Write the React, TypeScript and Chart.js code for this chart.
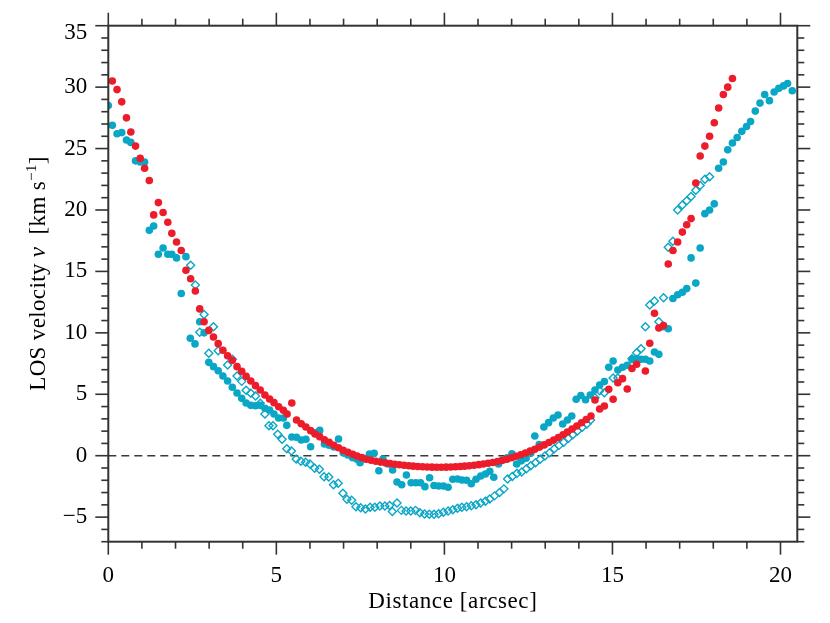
import { useEffect, useRef } from "react";
import { Chart, registerables } from "chart.js";

Chart.register(...registerables);

// ---------- data ----------
const redX = [
  0.12, 0.26, 0.4, 0.54, 0.67, 0.81, 0.95, 1.08, 1.22, 1.35, 1.49, 1.63, 1.77, 1.89, 2.03, 2.17, 2.31, 2.45, 2.59, 2.72,
  2.85, 2.99, 3.13, 3.27, 3.41, 3.55, 3.69, 3.83, 3.97, 4.1, 4.24, 4.38, 4.52, 4.66, 4.8, 4.93, 5.07, 5.21, 5.32, 5.46,
  5.6, 5.74, 5.88, 6.02, 6.15, 6.29, 6.43, 6.57, 6.71, 6.85, 6.99, 7.13, 7.27, 7.4, 7.54, 7.68, 7.82, 7.96, 8.1, 8.24,
  8.38, 8.52, 8.66, 8.8, 8.94, 9.07, 9.21, 9.35, 9.49, 9.63, 9.77, 9.91, 10.05, 10.19, 10.33, 10.47, 10.6, 10.74, 10.88, 11.02,
  11.16, 11.3, 11.44, 11.58, 11.72, 11.86, 12.0, 12.13, 12.27, 12.41, 12.55, 12.69, 12.83, 12.97, 13.11, 13.25, 13.39, 13.53, 13.66, 13.8,
  13.94, 14.08, 14.22, 14.36, 14.48, 14.62, 14.76, 14.89, 15.02, 15.16, 15.3, 15.44, 15.58, 15.72, 15.98, 16.11, 16.25, 16.38, 16.52, 16.66,
  16.8, 16.94, 17.08, 17.21, 17.34, 17.48, 17.61, 17.75, 17.89, 18.03, 18.16, 18.3, 18.43, 18.57,
];
const redY = [
  30.5, 29.8, 28.8, 27.5, 26.35, 25.2, 24.2, 23.4, 22.4, 19.6, 20.6, 19.8, 19.0, 18.1, 17.4, 16.7, 15.1, 14.4, 13.4, 11.95,
  10.9, 10.2, 9.66, 9.12, 8.58, 8.14, 7.77, 7.25, 6.87, 6.46, 6.08, 5.7, 5.35, 4.94, 4.62, 4.32, 3.99, 3.7, 3.4, 4.29,
  2.91, 2.6, 2.34, 2.04, 1.77, 1.55, 1.3, 1.09, 0.85, 0.65, 0.44, 0.28, 0.11, -0.02, -0.16, -0.29, -0.37, -0.45, -0.52, -0.58,
  -0.64, -0.69, -0.74, -0.78, -0.82, -0.85, -0.88, -0.9, -0.92, -0.93, -0.94, -0.94, -0.93, -0.92, -0.9, -0.88, -0.85, -0.82, -0.78, -0.73,
  -0.68, -0.62, -0.55, -0.47, -0.38, -0.28, -0.17, -0.05, 0.08, 0.22, 0.37, 0.53, 0.7, 0.88, 1.07, 1.27, 1.48, 1.7, 1.93, 2.17,
  2.42, 2.68, 2.95, 3.23, 4.53, 3.8, 4.05, 5.4, 4.6, 5.94, 6.27, 5.43, 7.1, 7.44, 6.9, 9.15, 11.6, 10.4, 10.6, 15.6,
  16.7, 17.4, 18.2, 18.8, 19.3, 22.2, 24.4, 25.2, 26.0, 27.1, 28.3, 29.4, 30.0, 30.7,
];

const cyanX = [
  0.0, 0.12, 0.26, 0.4, 0.54, 0.67, 0.81, 0.95, 1.08, 1.22, 1.35, 1.49, 1.63, 1.77, 1.89, 2.03, 2.17, 2.31, 2.44, 2.58,
  2.72, 2.85, 2.99, 3.13, 3.27, 3.41, 3.55, 3.69, 3.83, 3.97, 4.1, 4.24, 4.38, 4.52, 4.66, 4.8, 4.93, 5.07, 5.21, 5.31,
  5.46, 5.6, 5.74, 5.88, 6.02, 6.15, 6.29, 6.43, 6.57, 6.71, 6.85, 6.99, 7.13, 7.27, 7.4, 7.49, 7.63, 7.77, 7.91, 8.05,
  8.17, 8.32, 8.46, 8.59, 8.73, 8.87, 9.01, 9.15, 9.29, 9.42, 9.56, 9.69, 9.83, 9.97, 10.11, 10.25, 10.39, 10.52, 10.66, 10.8,
  10.94, 11.08, 11.22, 11.35, 11.47, 11.61, 11.74, 11.87, 12.01, 12.15, 12.29, 12.43, 12.57, 12.69, 12.82, 12.96, 13.1, 13.24, 13.38, 13.52,
  13.66, 13.79, 13.92, 14.06, 14.2, 14.34, 14.48, 14.62, 14.76, 14.89, 15.02, 15.16, 15.3, 15.44, 15.58, 15.72, 15.85, 15.98, 16.11, 16.25,
  16.38, 16.52, 16.66, 16.8, 16.94, 17.08, 17.21, 17.34, 17.48, 17.61, 17.75, 17.89, 18.03, 18.16, 18.3, 18.43, 18.57, 18.71, 18.85, 18.99,
  19.11, 19.25, 19.39, 19.53, 19.67, 19.81, 19.95, 20.09, 20.21, 20.35,
];
const cyanY = [
  28.5, 26.9, 26.2, 26.3, 25.7, 25.5, 24.0, 23.9, 23.9, 18.35, 18.7, 16.4, 16.9, 16.4, 16.4, 16.1, 13.2, 16.2, 9.56, 9.1,
  10.9, 10.0, 7.6, 7.25, 6.92, 6.49, 6.08, 5.57, 5.1, 4.67, 4.29, 4.1, 4.07, 4.1, 3.86, 3.72, 3.4, 3.07, 3.07, 2.47,
  1.52, 1.5, 1.28, 1.34, 0.73, 1.87, 2.06, 0.95, 0.85, 0.71, 1.36, 0.25, 0.06, -0.16, -0.29, -0.57, -0.24, 0.14, 0.2, -1.22,
  -0.27, -0.67, -1.16, -2.14, -2.36, -1.57, -2.2, -2.2, -2.2, -2.52, -1.8, -2.43, -2.47, -2.47, -2.57, -1.92, -1.9, -1.98, -2.0, -2.28,
  -1.92, -1.65, -1.49, -1.27, -1.76, -0.67, -0.35, -0.18, 0.15, -0.67, -0.42, -0.2, 0.2, 1.6, 0.9, 2.34, 2.69, 3.07, 3.31, 2.58,
  2.9, 3.23, 4.59, 4.9, 4.55, 4.94, 5.35, 5.76, 6.03, 7.2, 7.71, 6.98, 7.2, 7.36, 7.85, 7.9, 7.85, 7.85, 7.71, 8.44,
  8.25, 10.5, 10.33, 12.8, 13.1, 13.3, 13.6, 16.1, 14.05, 16.9, 19.7, 20.0, 20.5, 23.4, 23.9, 24.9, 25.45, 25.9, 26.4, 26.8,
  27.2, 28.05, 28.7, 29.4, 28.9, 29.6, 29.9, 30.1, 30.3, 29.7,
];

const diamondX = [
  2.45, 2.59, 2.72, 2.85, 2.99, 3.13, 3.27, 3.55, 3.69, 3.83, 3.97, 4.1, 4.24, 4.38, 4.52, 4.66, 4.78, 4.9, 5.04, 5.17,
  5.31, 5.45, 5.59, 5.73, 5.87, 6.0, 6.14, 6.28, 6.42, 6.56, 6.7, 6.84, 6.98, 7.1, 7.24, 7.37, 7.51, 7.65, 7.79, 7.93,
  8.08, 8.23, 8.37, 8.45, 8.59, 8.72, 8.86, 9.0, 9.14, 9.27, 9.41, 9.55, 9.69, 9.83, 9.97, 10.11, 10.25, 10.39, 10.52, 10.66,
  10.8, 10.94, 11.08, 11.22, 11.35, 11.49, 11.64, 11.77, 11.88, 12.02, 12.16, 12.3, 12.44, 12.57, 12.71, 12.85, 12.99, 13.13, 13.27, 13.41,
  13.55, 13.69, 13.82, 13.96, 14.1, 14.24, 14.35, 14.48, 14.62, 14.76, 15.02, 15.16, 15.58, 15.72, 15.85, 15.98, 16.11, 16.25, 16.38, 16.52,
  16.66, 16.8, 16.94, 17.08, 17.21, 17.34, 17.48, 17.61, 17.75, 17.89,
];
const diamondY = [
  15.5, 13.9, 10.05, 11.5, 8.33, 10.5, 8.55, 7.38, 7.85, 6.49, 6.05, 5.32, 5.08, 4.86, 4.27, 3.39, 2.44, 2.44, 1.74, 1.34,
  0.57, 0.38, -0.27, -0.46, -0.54, -0.68, -1.03, -1.11, -1.71, -1.73, -2.36, -2.25, -3.06, -3.55, -3.63, -4.15, -4.23, -4.34, -4.2, -4.2,
  -4.1, -4.1, -4.05, -4.55, -3.85, -4.45, -4.5, -4.5, -4.45, -4.64, -4.75, -4.77, -4.77, -4.72, -4.6, -4.5, -4.4, -4.28, -4.2, -4.15,
  -4.07, -3.99, -3.85, -3.7, -3.52, -3.27, -3.0, -2.7, -1.9, -1.7, -1.43, -1.33, -1.06, -0.81, -0.57, -0.29, -0.03, 0.24, 0.57, 0.84,
  1.09, 1.42, 1.71, 2.01, 2.31, 2.58, 2.9, 4.72, 5.29, 5.13, 6.32, 6.32, 7.9, 8.38, 8.7, 10.5, 12.27, 12.6, 10.9, 12.85,
  16.96, 17.45, 20.0, 20.4, 20.75, 21.1, 21.6, 22.0, 22.5, 22.7,
];

const zeroLineX = [0, 20.5];
const zeroLineY = [0, 0];

const xTickValues = [0, 5, 10, 15, 20];
const yTickValues = [-5, 0, 5, 10, 15, 20, 25, 30, 35];

const X_MIN = 0;
const X_MAX = 20.5;
const Y_MIN = -7;
const Y_MAX = 35;
const X_MAJOR = 5;
const Y_MAJOR = 5;
const MINOR = 1;

const X_TITLE = "Distance [arcsec]";
const Y_TITLE_PARTS = [
  { text: "LOS velocity ", style: "normal", sup: false },
  { text: "v", style: "italic", sup: false },
  { text: "  [km s", style: "normal", sup: false },
  { text: "\u22121", style: "normal", sup: true },
  { text: "]", style: "normal", sup: false },
];

const RED = "#ec1c2a";
const CYAN = "#0aa6c6";
const AXIS = "#333333";
const FONT = '"Liberation Serif", "Times New Roman", serif';
const FS = 23;
const Y_LABEL_PAD = 21;

const fmt = (v: number) => (v < 0 ? "\u2212" + Math.abs(v) : String(v));
const zip = (xs: number[], ys: number[]) => xs.map((x, i) => ({ x, y: ys[i] }));

const framePlugin = {
  id: "frameTicks",
  afterDraw(chart: any) {
    const { ctx, chartArea: a } = chart;
    const xs = chart.scales.x;
    const ys = chart.scales.y;
    ctx.save();
    ctx.strokeStyle = AXIS;
    ctx.lineCap = "butt";
    ctx.lineWidth = 1.6;
    const line = (x1: number, y1: number, x2: number, y2: number) => {
      ctx.beginPath();
      ctx.moveTo(x1, y1);
      ctx.lineTo(x2, y2);
      ctx.stroke();
    };
    for (let v = Math.ceil(X_MIN); v <= X_MAX; v += MINOR) {
      const p = xs.getPixelForValue(v);
      const L = v % X_MAJOR === 0 ? 13 : 7;
      line(p, a.bottom, p, a.bottom + L);
      line(p, a.top, p, a.top - L);
    }
    for (let v = Y_MIN; v <= Y_MAX; v += MINOR) {
      const p = ys.getPixelForValue(v);
      const L = v % Y_MAJOR === 0 ? 13 : 7;
      line(a.left - L, p, a.left, p);
      line(a.right, p, a.right + L, p);
    }
    ctx.lineWidth = 2;
    ctx.strokeRect(a.left, a.top, a.right - a.left, a.bottom - a.top);

    ctx.fillStyle = "#000";
    ctx.font = `${FS}px ${FONT}`;

    // top y label sits just inside the frame top, as in the reference
    ctx.textAlign = "right";
    ctx.textBaseline = "top";
    ctx.fillText(fmt(Y_MAX), a.left - Y_LABEL_PAD, ys.getPixelForValue(Y_MAX) - 4.5);

    // x title
    (ctx as any).letterSpacing = "0.6px";
    ctx.textAlign = "center";
    ctx.textBaseline = "alphabetic";
    ctx.fillText(X_TITLE, (a.left + a.right) / 2, 608);

    // y title (rotated, mixed styles)
    (ctx as any).letterSpacing = "0.35px";
    const fontFor = (p: any) =>
      p.sup ? `15px ${FONT}` : `${p.style === "italic" ? "italic " : ""}${FS}px ${FONT}`;
    let total = 0;
    for (const p of Y_TITLE_PARTS) {
      ctx.font = fontFor(p);
      total += ctx.measureText(p.text).width;
    }
    ctx.translate(45, 273.5);
    ctx.rotate(-Math.PI / 2);
    ctx.textAlign = "left";
    let cx = -total / 2;
    for (const p of Y_TITLE_PARTS) {
      ctx.font = fontFor(p);
      ctx.fillText(p.text, cx, p.sup ? -9 : 0);
      cx += ctx.measureText(p.text).width;
    }
    ctx.restore();
  },
};

export default function App() {
  const ref = useRef<HTMLCanvasElement | null>(null);
  useEffect(() => {
    if (!ref.current) return;
    const chart = new Chart(ref.current, {
      type: "scatter",
      data: {
        datasets: [
          {
            label: "red",
            data: zip(redX, redY),
            pointRadius: 3.8,
            pointBorderWidth: 0,
            backgroundColor: RED,
            borderColor: RED,
            pointStyle: "circle",
            clip: 0,
          } as any,
          {
            label: "cyan",
            data: zip(cyanX, cyanY),
            pointRadius: 3.8,
            pointBorderWidth: 0,
            backgroundColor: CYAN,
            borderColor: CYAN,
            pointStyle: "circle",
            clip: 0,
          },
          {
            label: "diamond",
            data: zip(diamondX, diamondY),
            pointRadius: 4,
            pointBorderWidth: 1.4,
            backgroundColor: "rgba(255,255,255,0)",
            borderColor: CYAN,
            pointStyle: "rectRot",
            clip: 0,
          },
          {
            label: "zero",
            data: zip(zeroLineX, zeroLineY),
            showLine: true,
            pointRadius: 0,
            borderColor: "#3a3a3a",
            borderWidth: 1.5,
            borderDash: [8, 5],
            clip: 0,
          },
        ],
      },
      plugins: [framePlugin],
      options: {
        animation: false,
        responsive: false,
        events: [],
        layout: { padding: { top: 25.7, right: 32.7, left: 0, bottom: 0 } },
        plugins: { legend: { display: false }, tooltip: { enabled: false }, title: { display: false } },
        scales: {
          x: {
            type: "linear",
            min: X_MIN,
            max: X_MAX,
            border: { display: false },
            grid: { display: false, drawTicks: false },
            afterBuildTicks: (s: any) => {
              s.ticks = xTickValues.map((value) => ({ value }));
            },
            ticks: {
              padding: 20,
              color: "#000",
              font: { family: FONT, size: FS },
              maxRotation: 0,
              autoSkip: false,
            },
            afterFit: (s: any) => {
              s.height = 81.3;
            },
          },
          y: {
            type: "linear",
            min: Y_MIN,
            max: Y_MAX,
            border: { display: false },
            grid: { display: false, drawTicks: false },
            afterBuildTicks: (s: any) => {
              s.ticks = yTickValues.map((value) => ({ value }));
            },
            ticks: {
              padding: Y_LABEL_PAD,
              color: "#000",
              font: { family: FONT, size: FS, lineHeight: 0.4 },
              autoSkip: false,
              callback: (v: any) => (Number(v) === Y_MAX ? "" : fmt(Number(v))),
            },
            afterFit: (s: any) => {
              s.width = 108.3;
            },
          },
        },
      } as any,
    });
    return () => chart.destroy();
  }, []);
  return (
    <div style={{ position: "absolute", left: 0, top: 0, width: 830, height: 623, background: "#fff" }}>
      <canvas ref={ref} width={830} height={623} style={{ display: "block" }} />
    </div>
  );
}
